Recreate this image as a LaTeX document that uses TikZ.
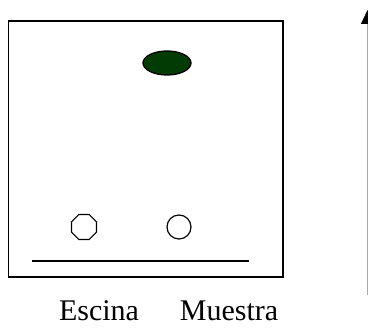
\documentclass[tikz,border=0pt]{standalone}
\usepackage{fontspec}
\setmainfont{Liberation Serif}
\usepackage{tikz}
\usetikzlibrary{arrows.meta,shapes.geometric,positioning}
\definecolor{spotgreen}{RGB}{2,60,4}
\definecolor{axisgray}{RGB}{170,170,170}

\begin{document}
\begin{tikzpicture}[x=1pt,y=1pt,
  plate/.style={draw=black, line width=1.4pt},
  spot/.style={ellipse, draw=black, line width=1.3pt, fill=spotgreen,
               minimum width=48pt, minimum height=24pt, inner sep=0pt},
  octo/.style={regular polygon, regular polygon sides=8, draw=black,
               line width=1.2pt, minimum size=27pt, inner sep=0pt},
  well/.style={circle, draw=black, line width=1.2pt,
               minimum size=24pt, inner sep=0pt},
  lbl/.style={font=\fontsize{30}{32}\selectfont, anchor=base,
              inner sep=0pt},
  arr/.style={-{Triangle[length=14pt, width=13pt, black]},
              draw=axisgray, line width=1pt},
]
\useasboundingbox (0,0) rectangle (368,329);

% plate with origin line
\draw[plate] (8.5,52) rectangle (283,308);
\coordinate (o1) at (32,68);
\coordinate (o2) at (249,68);
\draw[plate] (o1) -- (o2);

% spots
\node[octo] (esc) at (84,102) {};
\node[well] (mue) at (179,102) {};
\node[spot] (top) at (167,266) {};

% lane labels
\node[lbl] (lesc) at (99,8) {Escina};
\node[lbl] (lmue) at (229,8) {Muestra};

% solvent direction
\coordinate (a0) at (367.5,34);
\coordinate (a1) at (367.5,319);
\draw[arr] (a0) -- (a1);
\end{tikzpicture}
\end{document}
